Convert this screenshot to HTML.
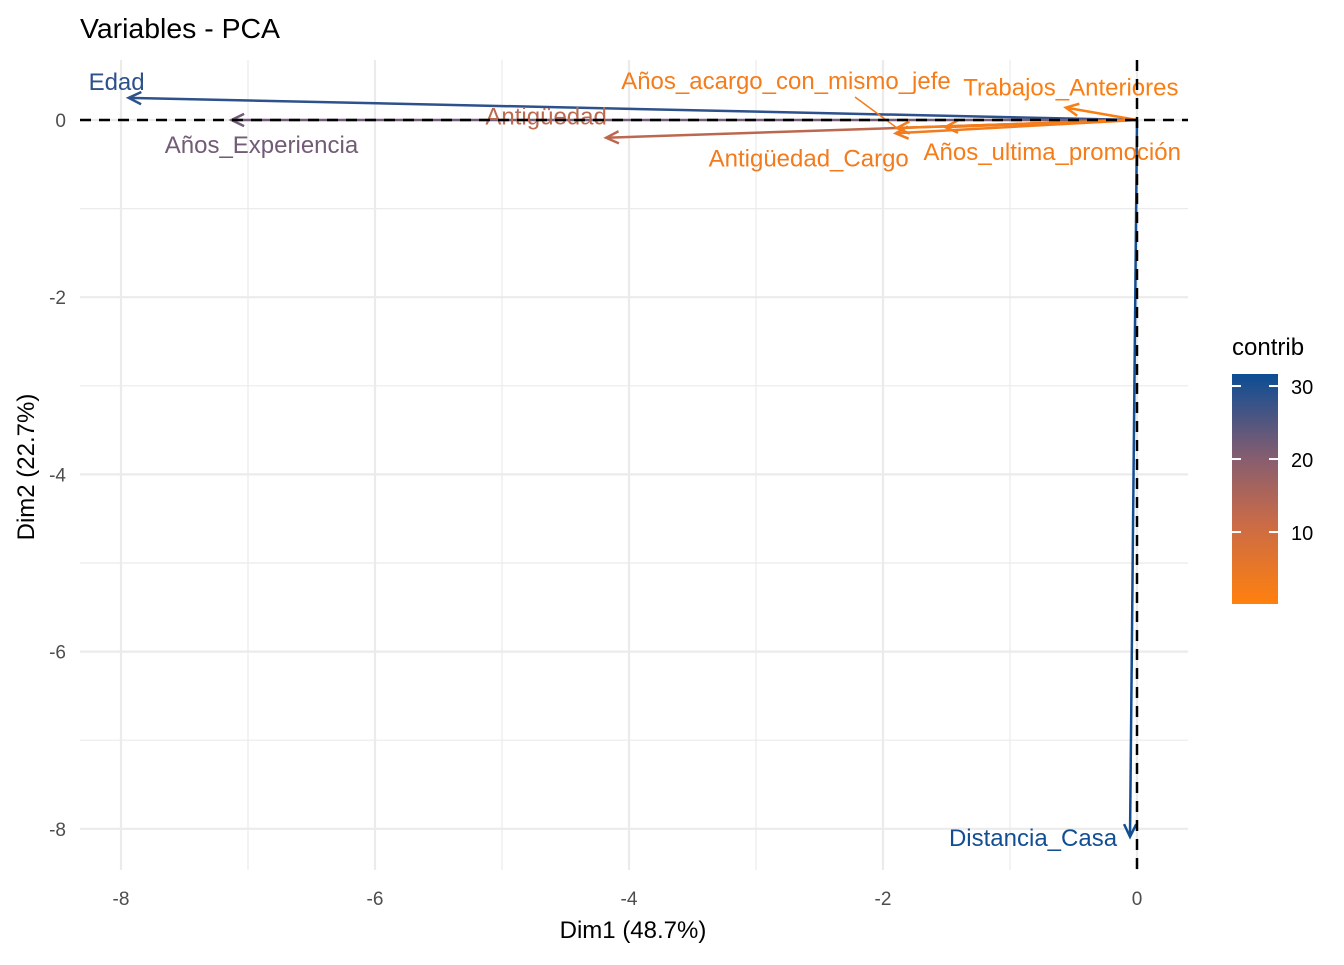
<!DOCTYPE html>
<html><head><meta charset="utf-8"><style>
body{margin:0;background:#fff}
svg text{font-family:"Liberation Sans",sans-serif}
</style></head><body>
<svg id="chart" width="1344" height="960" xmlns="http://www.w3.org/2000/svg">
<text x="80" y="38" font-size="28" fill="#000" textLength="200" lengthAdjust="spacingAndGlyphs">Variables - PCA</text>
<g id="grid"></g>
<g id="arrows"></g>
<g id="labels"></g>
<g id="axes"></g>
<g>
<text x="1232" y="355" font-size="24">contrib</text>
<defs><linearGradient id="cg" x1="0" y1="1" x2="0" y2="0">
<stop offset="0" stop-color="#FF800E"/><stop offset="0.35" stop-color="#CA6B47"/><stop offset="0.62" stop-color="#8B5E6E"/><stop offset="1" stop-color="#0C4D95"/></linearGradient></defs>
<rect x="1232" y="374" width="46" height="230" fill="url(#cg)"/>
<g id="legticks"></g>
</g>
<text x="633" y="938" font-size="24" text-anchor="middle">Dim1 (48.7%)</text>
<text transform="translate(34,467) rotate(-90)" font-size="24" text-anchor="middle">Dim2 (22.7%)</text>
</svg>
<script>
const varNames=["Edad","Años_Experiencia","Antigüedad","Antigüedad_Cargo","Años_acargo_con_mismo_jefe","Años_ultima_promoción","Trabajos_Anteriores","Distancia_Casa"];
const dim1=[-7.94,-7.13,-4.18,-1.9,-1.89,-1.51,-0.56,-0.055];
const dim2=[0.25,0.0,-0.2,-0.15,-0.09,-0.08,0.14,-8.09];
const contrib=[28.5,22,13,3,2.5,2,1,31];
const xTicks=[-8,-6,-4,-2,0];
const yTicks=[0,-2,-4,-6,-8];
const legendTicks=[10,20,30];
// label pixel offsets (layout, not data)
const OFF_X=[-12,30,-60,-87,-111,107,5,-97];
const OFF_Y=[-8,33,-13,33,-39,33,-12,9];
const NS="http://www.w3.org/2000/svg";
const X=v=>1137+v*127, Y=v=>120-v*88.6;
const L=v=>604-(v-0.14)*7.3;
function mk(t,a,p){const e=document.createElementNS(NS,t);for(const k in a)e.setAttribute(k,a[k]);p.appendChild(e);return e;}
function col(c){const t=Math.max(0,Math.min(1,(c-0.14)/31.5));
 const stops=[[0,[255,128,14]],[0.35,[202,107,71]],[0.62,[139,94,110]],[1,[12,77,149]]];
 for(let i=1;i<stops.length;i++){if(t<=stops[i][0]){const a=stops[i-1],b=stops[i],f=(t-a[0])/(b[0]-a[0]);return "rgb("+a[1].map((v,j)=>Math.round(v+(b[1][j]-v)*f)).join(",")+")";}}
 return "rgb(12,77,149)";}
const grid=document.getElementById('grid');
for(let v=-8;v<=0;v+=1){const ln=mk('line',{x1:X(v),x2:X(v),y1:60,y2:870,stroke:'#ebebeb','stroke-width':v%2===0?2.2:1.2},grid);

}
for(let v=0;v>=-8;v-=1){const ln=mk('line',{x1:80,x2:1188,y1:Y(v),y2:Y(v),stroke:'#ebebeb','stroke-width':v%2===0?2.2:1.2},grid);

}
const ar=document.getElementById('arrows'),lb=document.getElementById('labels');
for(let i=0;i<varNames.length;i++){
 const c=col(contrib[i]),x1=X(0),y1=Y(0),x2=X(dim1[i]),y2=Y(dim2[i]);
 const g=mk('g',{},ar);
 
 
 mk('line',{x1,y1,x2,y2,stroke:c,'stroke-width':2.5},g);
 const ang=Math.atan2(y2-y1,x2-x1),h=14,s=0.45;
 mk('polyline',{points:`${x2-h*Math.cos(ang-s)},${y2-h*Math.sin(ang-s)} ${x2},${y2} ${x2-h*Math.cos(ang+s)},${y2-h*Math.sin(ang+s)}`,fill:'none',stroke:c,'stroke-width':2.5},g);
 const t=mk('text',{x:x2+OFF_X[i],y:y2+OFF_Y[i],'text-anchor':'middle','font-size':24,fill:c},lb);
 t.textContent=varNames[i];
 
 
}
mk('line',{x1:855,y1:97,x2:X(dim1[4]),y2:Y(dim2[4]),stroke:col(contrib[4]),'stroke-width':1.5},lb);
const ax=document.getElementById('axes');
mk('line',{x1:80,x2:1188,y1:Y(0),y2:Y(0),stroke:'#000','stroke-width':2.5,'stroke-dasharray':'11 8'},ax);
mk('line',{x1:X(0),x2:X(0),y1:60,y2:870,stroke:'#000','stroke-width':2.5,'stroke-dasharray':'11 8'},ax);
for(const v of xTicks){const t=mk('text',{x:X(v),y:905,'text-anchor':'middle','font-size':19,fill:'#4d4d4d'},ax);t.textContent=v;

}
for(const v of yTicks){const t=mk('text',{x:66,y:Y(v)+7,'text-anchor':'end','font-size':19,fill:'#4d4d4d'},ax);t.textContent=v;

}
const lt=document.getElementById('legticks');
for(const v of legendTicks){const y=L(v);
mk('line',{x1:1232,x2:1241,y1:y,y2:y,stroke:'#fff','stroke-width':2},lt);
mk('line',{x1:1269,x2:1278,y1:y,y2:y,stroke:'#fff','stroke-width':2},lt);
const t=mk('text',{x:1291,y:y+8,'font-size':20,fill:'#000'},lt);t.textContent=v;

}
</script>
</body></html>
